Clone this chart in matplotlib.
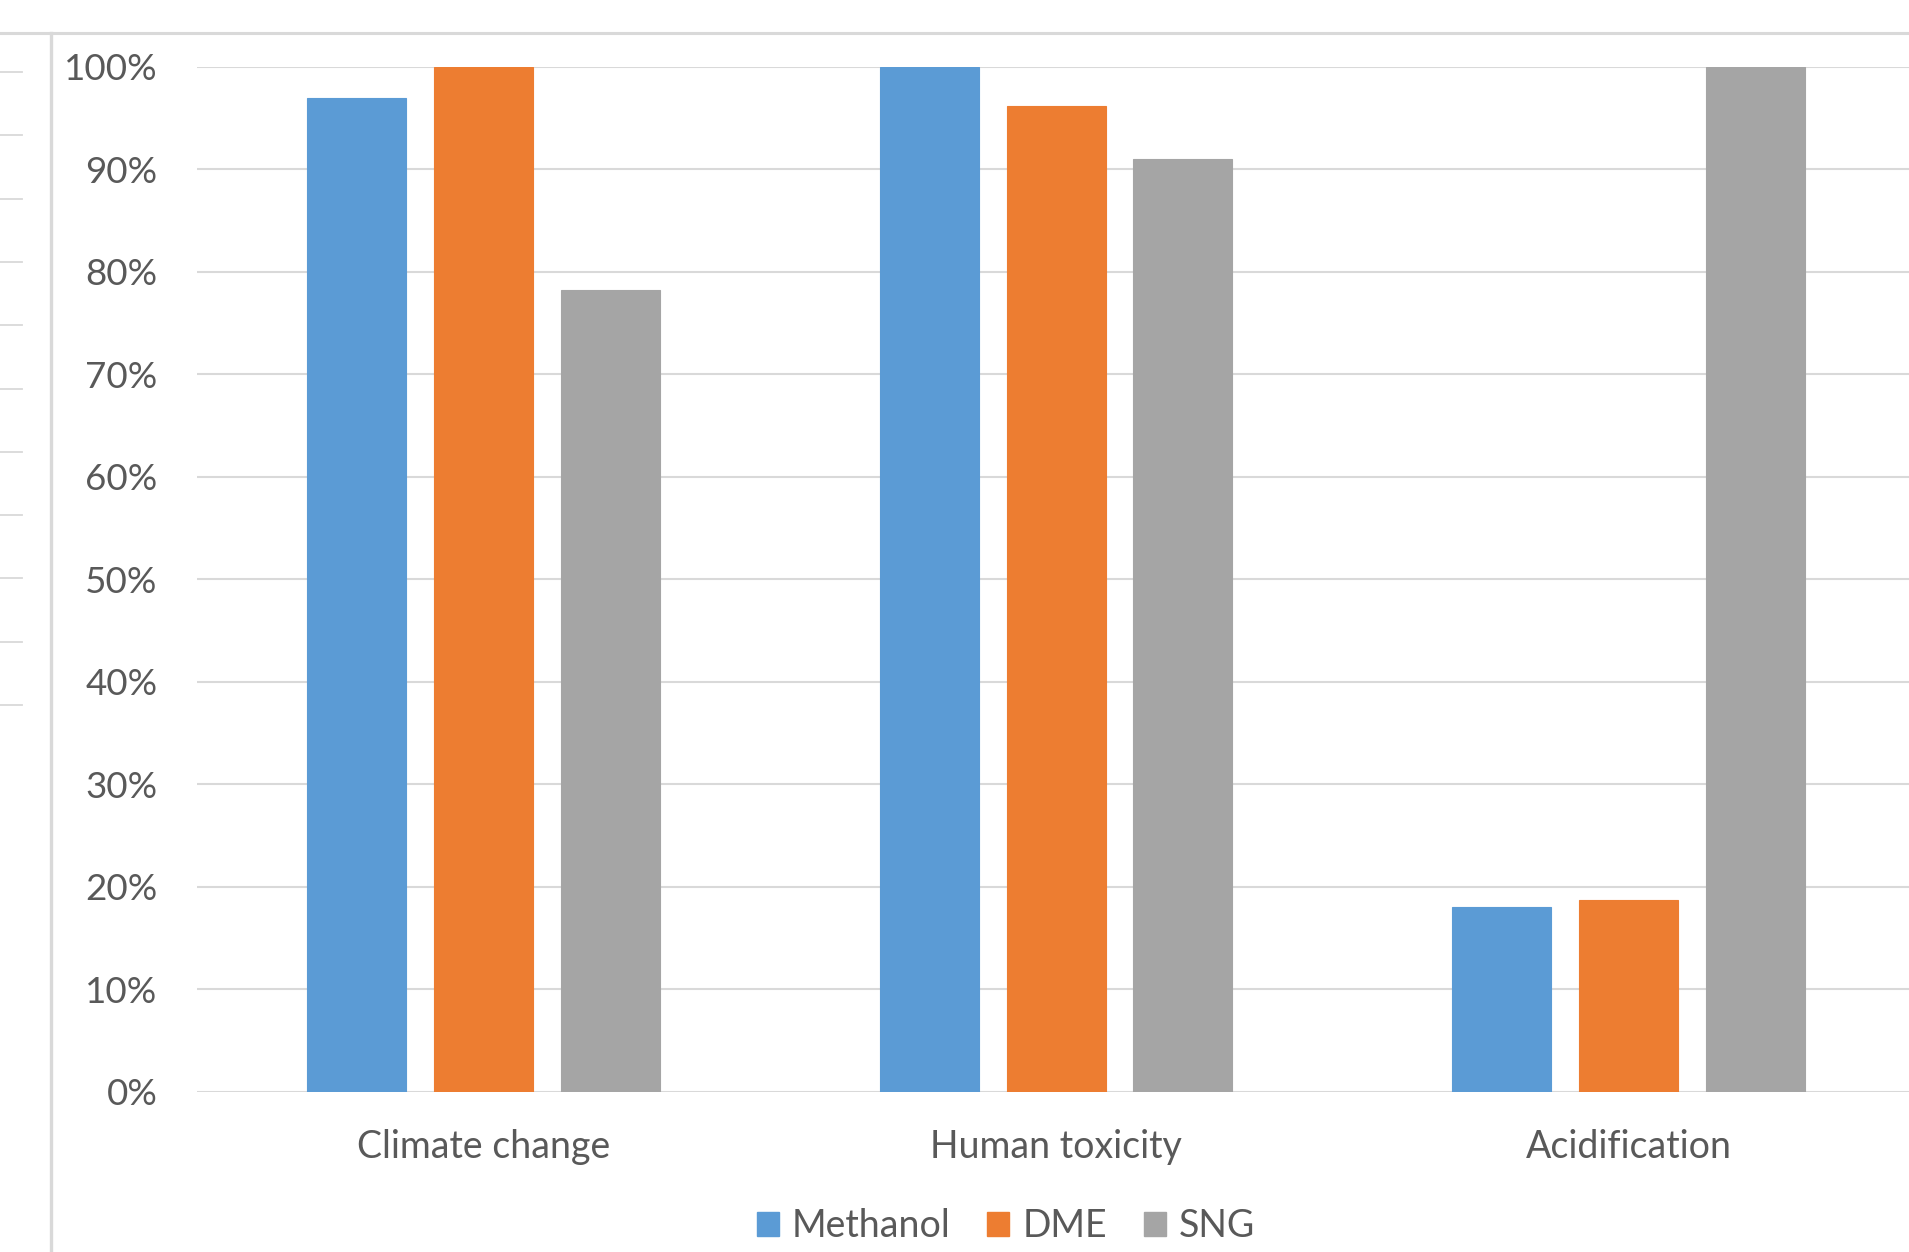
import matplotlib
matplotlib.use("Agg")
import matplotlib.pyplot as plt
import numpy as np
from matplotlib.lines import Line2D
from matplotlib.patches import Patch
from matplotlib.ticker import FixedLocator

plt.rcParams['font.family'] = ['Lato', 'DejaVu Sans']

categories = ["Climate change", "Human toxicity", "Acidification"]
series_names = ["Methanol", "DME", "SNG"]
methanol = [0.969, 1.00, 0.180]
dme = [1.00, 0.9615, 0.187]
sng = [0.782, 0.9095, 1.00]
y_ticks = [0.0, 0.1, 0.2, 0.3, 0.4, 0.5, 0.6, 0.7, 0.8, 0.9, 1.0]
y_tick_labels = ["0%", "10%", "20%", "30%", "40%", "50%", "60%", "70%", "80%", "90%", "100%"]

colors = ["#5B9BD5", "#ED7D31", "#A5A5A5"]
text_color = "#595959"
grid_color = "#D9D9D9"

W, H = 1909, 1252
fig = plt.figure(figsize=(W / 100, H / 100), dpi=100)

def fx(px):
    return px / W

def fy(py):
    return 1 - py / H

# plot area in pixel terms (extends past the right edge, as in the cropped reference)
left_px, right_px, top_px, bottom_px = 197.2, 1915.0, 66.5, 1091.7
ax = fig.add_axes([fx(left_px), fy(bottom_px), fx(right_px - left_px), (bottom_px - top_px) / H])
ax.set_xlim(-0.5, 2.5)
ax.set_ylim(0, 1.0)
ax.patch.set_alpha(0)
for s in ax.spines.values():
    s.set_visible(False)

x = np.arange(len(categories))
bar_w = 0.1729
step = 0.2214
for i, (vals, c, name) in enumerate(zip([methanol, dme, sng], colors, series_names)):
    ax.bar(x + (i - 1) * step, vals, width=bar_w, color=c, zorder=3, label=name,
           edgecolor=c, linewidth=0.8)

ax.yaxis.set_major_locator(FixedLocator(y_ticks))
ax.set_yticklabels(y_tick_labels)
ax.set_xticks(x)
ax.set_xticklabels(categories)
ax.grid(axis='y', color=grid_color, linewidth=1.5, zorder=0)
ax.set_axisbelow(True)
ax.tick_params(axis='y', length=0, pad=28.5, labelsize=26.5, labelcolor=text_color)
ax.tick_params(axis='x', length=0, pad=27, labelsize=27, labelcolor=text_color)

# legend
handles = [Patch(facecolor=c, edgecolor=c) for c in colors]
fig.legend(handles, series_names, loc='center', bbox_to_anchor=(fx(1006), fy(1226)),
           ncol=3, frameon=False, fontsize=27, labelcolor=text_color,
           handlelength=0.587, handleheight=0.587, handletextpad=0.35,
           columnspacing=0.98, borderpad=0)

# surrounding decorations from the cropped sheet
fig.add_artist(Line2D([0, 1], [fy(33), fy(33)], color=grid_color, linewidth=2.2,
                      transform=fig.transFigure))
fig.add_artist(Line2D([fx(51), fx(51)], [0, fy(33)], color=grid_color, linewidth=2.4,
                      transform=fig.transFigure))
for k in range(11):
    yy = 72 + k * 63.3
    fig.add_artist(Line2D([0, fx(22)], [fy(yy), fy(yy)], color=grid_color, linewidth=1.3,
                          transform=fig.transFigure))

fig.savefig("out.png", dpi=100)
